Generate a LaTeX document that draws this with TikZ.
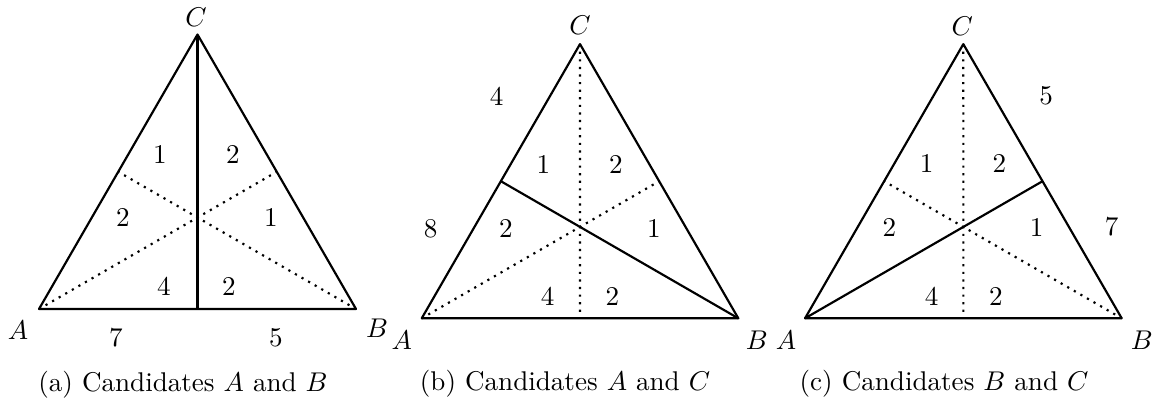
\documentclass[tikz,border=0pt]{standalone}
\usetikzlibrary{calc}
\begin{document}
\begin{tikzpicture}[x=0.369pt,y=-0.369pt,
  solidline/.style={thick, line join=round},
  dotline/.style={thick, dotted},
  lbl/.style={inner sep=0pt}]
\useasboundingbox (0,0) rectangle (1160,406);
% ---------- (a) ----------
\coordinate (A1) at (39,309);
\coordinate (B1) at (356,309);
\coordinate (C1) at (197.5,34.5);
\draw[dotline] (A1) -- ($(B1)!0.5!(C1)$);
\draw[dotline] (B1) -- ($(A1)!0.5!(C1)$);
\draw[solidline] (C1) -- ($(A1)!0.5!(B1)$);
\draw[solidline] (A1) -- (B1) -- (C1) -- cycle;
\node[lbl] (la1) at (18,330) {$A$};
\node[lbl] (lb1) at (377,328) {$B$};
\node[lbl] (lc1) at (196,17) {$C$};
\node[lbl] (s7) at (116,338) {7};
\node[lbl] (s5) at (276,338) {5};
\node[lbl] (a11) at (160,154) {1};
\node[lbl] (a12) at (233,154) {2};
\node[lbl] (a21) at (123,217) {2};
\node[lbl] (a22) at (271,217) {1};
\node[lbl] (a31) at (164,286) {4};
\node[lbl] (a32) at (229,286) {2};
\node[lbl] (capa) at (183,385) {(a) Candidates $A$ and $B$};
% ---------- (b) ----------
\coordinate (A2) at (421.7,318.3);
\coordinate (B2) at (738.3,318.3);
\coordinate (C2) at (580,44.1);
\draw[dotline] (C2) -- ($(A2)!0.5!(B2)$);
\draw[dotline] (A2) -- ($(B2)!0.5!(C2)$);
\draw[solidline] (B2) -- ($(A2)!0.5!(C2)$);
\draw[solidline] (A2) -- (B2) -- (C2) -- cycle;
\node[lbl] (la2) at (401.7,340) {$A$};
\node[lbl] (lb2) at (756.7,340) {$B$};
\node[lbl] (lc2) at (580,25) {$C$};
\node[lbl] (s4) at (496.7,96.7) {4};
\node[lbl] (s8) at (430.7,228.3) {8};
\node[lbl] (b11) at (543.3,164) {1};
\node[lbl] (b12) at (616,164) {2};
\node[lbl] (b21) at (506,228.3) {2};
\node[lbl] (b22) at (654,228.3) {1};
\node[lbl] (b31) at (547.7,296.7) {4};
\node[lbl] (b32) at (612.3,296.7) {2};
\node[lbl] (capb) at (565,384) {(b) Candidates $A$ and $C$};
% ---------- (c) ----------
\coordinate (A3) at (805,318.3);
\coordinate (B3) at (1121.7,318.3);
\coordinate (C3) at (963.3,44.1);
\draw[dotline] (C3) -- ($(A3)!0.5!(B3)$);
\draw[dotline] (B3) -- ($(A3)!0.5!(C3)$);
\draw[solidline] (A3) -- ($(B3)!0.5!(C3)$);
\draw[solidline] (A3) -- (B3) -- (C3) -- cycle;
\node[lbl] (la3) at (786,340) {$A$};
\node[lbl] (lb3) at (1141.7,340) {$B$};
\node[lbl] (lc3) at (962.3,26.7) {$C$};
\node[lbl] (t5) at (1046,96) {5};
\node[lbl] (t7) at (1111.7,226.7) {7};
\node[lbl] (c11) at (926.7,163.3) {1};
\node[lbl] (c12) at (999.3,163.3) {2};
\node[lbl] (c21) at (889.3,227.7) {2};
\node[lbl] (c22) at (1036.7,227.7) {1};
\node[lbl] (c31) at (931.7,296.7) {4};
\node[lbl] (c32) at (996,296.7) {2};
\node[lbl] (capc) at (944,384) {(c) Candidates $B$ and $C$};
\end{tikzpicture}
\end{document}
